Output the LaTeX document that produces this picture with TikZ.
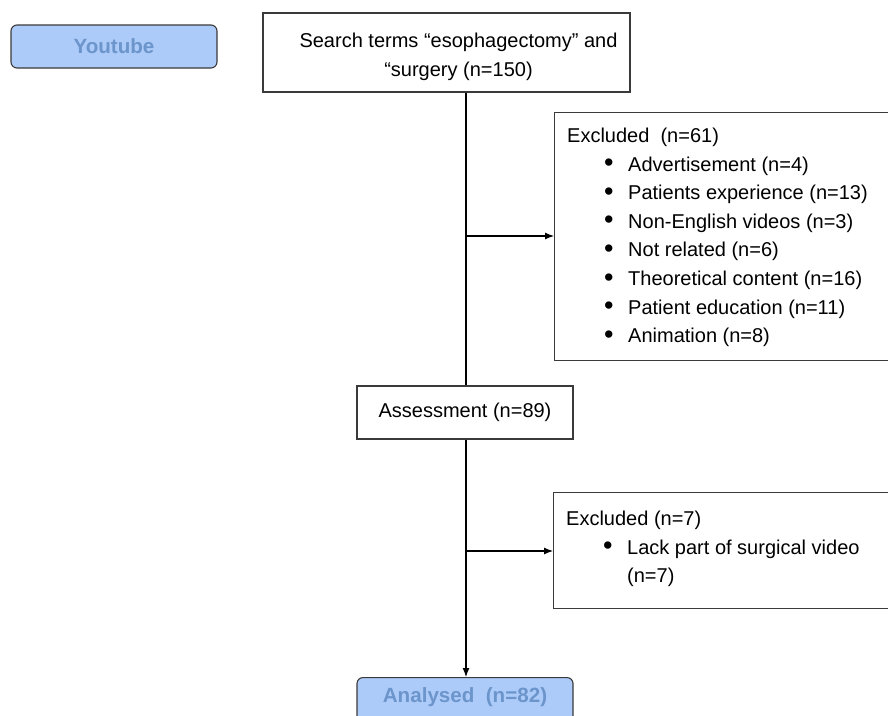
\documentclass[tikz,border=0pt]{standalone}
\usepackage{fontspec}
\setmainfont{Liberation Sans}
\usetikzlibrary{arrows.meta}
\definecolor{ytfill}{HTML}{ADCBF9}
\definecolor{yttext}{HTML}{6B95CB}
\definecolor{edge}{HTML}{3A3A3A}
\tikzset{
  plainbox/.style={draw=edge, line width=1.1pt, fill=white, inner sep=0pt},
  bluebox/.style={draw=edge, line width=1.1pt, fill=ytfill, rounded corners=6pt, inner sep=0pt},
  bluetext/.style={text=yttext, font=\bfseries\fontsize{20.6}{24}\selectfont, inner sep=0pt},
  txt/.style={font=\fontsize{20}{28.6}\selectfont, inner sep=0pt},
  conn/.style={draw=black, line width=1.1pt},
  arr/.style={conn, -{Latex[length=9pt,width=7pt]}}
}
\newcommand{\bitem}[1]{\hspace*{37pt}\makebox[24pt][l]{\raisebox{-0.5pt}{\scalebox{1.35}{\textbullet}}}#1}
\begin{document}
\begin{tikzpicture}[x=1pt,y=-1pt]
\useasboundingbox (0,0) rectangle (888,715);
\clip (0,0) rectangle (888,715);
\fill[white] (0,0) rectangle (888,715);

% Youtube
\node[bluebox, minimum width=206pt, minimum height=43pt] (yt) at (114,46.5) {};
\node[bluetext] (yttxt) at (114,46.5) {Youtube};

% Search
\node[plainbox, minimum width=367pt, minimum height=79pt] (search) at (446.5,52.5) {};
\node[txt, anchor=base] (s1) at (458.5,47) {Search terms “esophagectomy” and};
\node[txt, anchor=base] (s2) at (458.5,76) {“surgery (n=150)};

% Excluded 1
\node[plainbox, anchor=north west, minimum width=345pt, minimum height=248pt] (ex1) at (554,112) {};
\node[txt, anchor=base west] (ex1txt) at (567,142.5) {\begin{tabular}[t]{@{}l@{}}
Excluded~~(n=61)\\
\bitem{Advertisement (n=4)}\\
\bitem{Patients experience (n=13)}\\
\bitem{Non-English videos (n=3)}\\
\bitem{Not related (n=6)}\\
\bitem{Theoretical content (n=16)}\\
\bitem{Patient education (n=11)}\\
\bitem{Animation (n=8)}
\end{tabular}};

% Assessment
\node[plainbox, minimum width=216pt, minimum height=53pt, font=\fontsize{20}{24}\selectfont] (assess) at (465,412.5) {Assessment (n=89)};

% Excluded 2
\node[plainbox, anchor=north west, minimum width=346pt, minimum height=116pt] (ex2) at (553,492) {};
\node[txt, anchor=base west] (ex2txt) at (566,525.5) {\begin{tabular}[t]{@{}l@{}}
Excluded (n=7)\\
\bitem{Lack part of surgical video}\\
\hspace*{61pt}(n=7)
\end{tabular}};

% Analysed
\node[bluebox, anchor=north, minimum width=216pt, minimum height=60pt] (ana) at (465,677) {};
\node[bluetext] (anatxt) at (465,697) {Analysed~~(n=82)};

% connectors
\coordinate (j1) at (466,236);
\coordinate (j2) at (466,551);
\draw[conn] (search.south -| j1) -- (assess.north -| j1);
\draw[arr] (assess.south -| j1) -- (ana.north -| j1);
\draw[arr] (j1) -- (j1 -| ex1.west);
\draw[arr] (j2) -- (j2 -| ex2.west);
\end{tikzpicture}
\end{document}
